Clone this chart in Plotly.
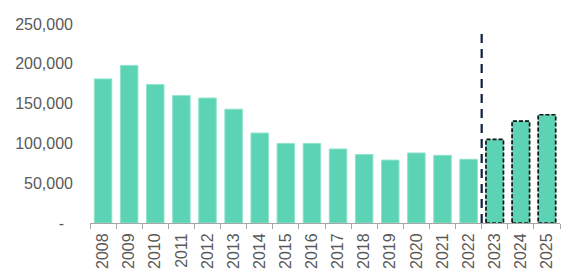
import plotly.graph_objects as go

years = ["2008", "2009", "2010", "2011", "2012", "2013", "2014", "2015", "2016",
         "2017", "2018", "2019", "2020", "2021", "2022", "2023", "2024", "2025"]
values = [181000, 198000, 174000, 160000, 157000, 143000, 113000, 100000, 100000,
          93000, 86000, 79000, 88000, 85000, 80000, 105000, 128000, 136000]
forecast_start = "2023"
y_tickvals = [0, 50000, 100000, 150000, 200000, 250000]
y_ticktext = ["-\u00a0\u00a0", "50,000", "100,000", "150,000", "200,000", "250,000"]
divider_top = 242000

bar_color = "#5CD3B4"
bargap = 0.33
bar_w = 1 - bargap

fig = go.Figure()
fig.add_trace(go.Bar(
    x=years, y=values,
    marker=dict(color=bar_color, line=dict(color="#8FE2CD", width=1)),
    hoverinfo="x+y",
))

fi = years.index(forecast_start)
shapes = []
for i in range(fi, len(years)):
    shapes.append(dict(
        type="rect", xref="x", yref="y",
        x0=i - bar_w / 2, x1=i + bar_w / 2, y0=0, y1=values[i],
        line=dict(color="#111111", width=1.7, dash="4px,2px"),
        fillcolor="rgba(0,0,0,0)", layer="above",
    ))
shapes.append(dict(
    type="line", xref="x", yref="y",
    x0=fi - 0.5, x1=fi - 0.5, y0=0, y1=divider_top,
    line=dict(color="#0E1F3F", width=2.2, dash="9px,6px"),
    layer="above",
))

font_family = "Liberation Sans, Arial, sans-serif"
fig.update_layout(
    width=580, height=275,
    margin=dict(l=90, r=20, t=24, b=52),
    paper_bgcolor="white", plot_bgcolor="white",
    bargap=bargap,
    showlegend=False,
    shapes=shapes,
    font=dict(family=font_family, size=16, color="#595959"),
    xaxis=dict(
        type="category",
        tickangle=-90,
        automargin=False,
        showgrid=False,
        showline=True, linecolor="#A6A6A6", linewidth=1,
        ticks="outside", ticklen=5, tickcolor="#A6A6A6", tickson="boundaries",
        ticklabelstandoff=3,
        tickfont=dict(family=font_family, size=16, color="#595959"),
        range=[-0.5, len(years) - 0.5],
    ),
    yaxis=dict(
        range=[0, 250000],
        automargin=False,
        tickvals=y_tickvals, ticktext=y_ticktext,
        showgrid=False, zeroline=False, showline=False,
        ticks="", ticklabelstandoff=16,
        tickfont=dict(family=font_family, size=16, color="#595959"),
    ),
)

fig.write_html("out.html")
